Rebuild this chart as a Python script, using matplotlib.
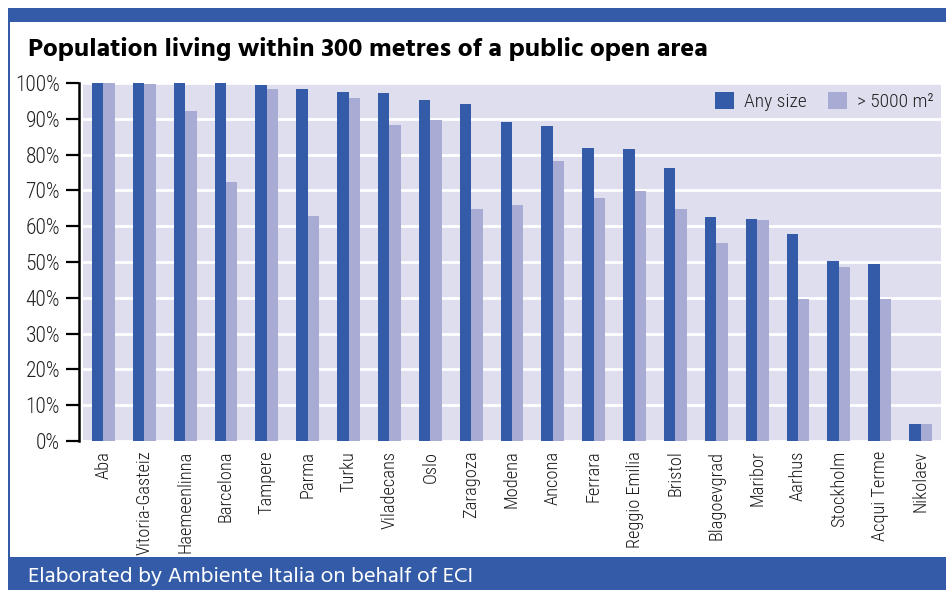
import matplotlib.pyplot as plt
from matplotlib.patches import Rectangle
import numpy as np

cities = ['Aba', 'Vitoria-Gasteiz', 'Haemeenlinna', 'Barcelona', 'Tampere', 'Parma',
          'Turku', 'Viladecans', 'Oslo', 'Zaragoza', 'Modena', 'Ancona', 'Ferrara',
          'Reggio Emilia', 'Bristol', 'Blagoevgrad', 'Maribor', 'Aarhus', 'Stockholm',
          'Acqui Terme', 'Nikolaev']
any_size = [100, 100, 100, 100, 99.4, 98.3, 97.5, 97.2, 95.3, 94.1, 89.1, 88.0, 81.8,
            81.6, 76.3, 62.6, 62.0, 57.8, 50.3, 49.4, 4.7]
over_5000 = [100, 99.7, 92.2, 72.3, 98.3, 62.8, 95.8, 88.3, 89.7, 64.8, 65.9, 78.2, 67.9,
             69.8, 64.8, 55.3, 61.7, 39.7, 48.6, 39.7, 4.7]
yticks = [0, 10, 20, 30, 40, 50, 60, 70, 80, 90, 100]
ytick_labels = ['%d%%' % v for v in yticks]

DARK = '#345BA7'
LIGHT = '#A8ABD4'
BG = '#DEDEEE'
COND = ['Roboto Condensed', 'DejaVu Sans']
HEAD = ['Hind', 'DejaVu Sans']

W, H = 946, 590
fig = plt.figure(figsize=(W / 100, H / 100), dpi=100)
fig.patch.set_facecolor('white')


def px(x0, y0, x1, y1):
    # pixel box from the top-left corner -> figure fraction rect
    return (x0 / W, 1 - y1 / H, (x1 - x0) / W, (y1 - y0) / H)


for box in [px(8, 8, 946, 22), px(8, 22, 10, 557), px(8, 557, 946, 590)]:
    fig.patches.append(Rectangle(box[:2], box[2], box[3], transform=fig.transFigure,
                                 facecolor=DARK, edgecolor='none'))

ax = fig.add_axes(px(83, 83, 941, 441))
ax.set_facecolor(BG)

# spine position first: moving it resets the tick objects
for s in ['top', 'right', 'bottom']:
    ax.spines[s].set_visible(False)
ax.spines['left'].set_position(('outward', 3))
ax.spines['left'].set_linewidth(1.8)

x = np.arange(len(cities))
w = 0.28
ax.bar(x - w / 2, any_size, w, color=DARK, label='Any size', zorder=3)
ax.bar(x + w / 2, over_5000, w, color=LIGHT, label='> 5000 m²', zorder=3)

ax.set_xlim(-0.5, len(cities) - 0.5)
ax.set_ylim(0, 100)
ax.tick_params(axis='x', length=0, pad=7)
ax.tick_params(axis='y', length=9.5, width=1.6, pad=4)
ax.set_yticks(yticks)
ax.set_yticklabels(ytick_labels, fontsize=15.5, family=COND, fontweight='light',
                   color='#222222')
ax.set_xticks(x)
ax.set_xticklabels(cities, rotation=90, fontsize=13.2, family=COND, fontweight='light',
                   color='#1a1a1a')
ax.yaxis.grid(True, color='white', lw=2, zorder=1)
ax.set_axisbelow(True)

leg = ax.legend(loc='upper right', ncol=2, frameon=False,
                prop={'family': COND, 'weight': 'light', 'size': 14},
                handlelength=1.0, handleheight=1.0, columnspacing=1.1, handletextpad=0.5,
                bbox_to_anchor=(1.012, 1.025))
for t in leg.get_texts():
    t.set_color('#222222')

fig.text(28 / W, 1 - 49 / H, 'Population living within 300 metres of a public open area',
         fontsize=19, fontweight='bold', family=HEAD, va='center', ha='left',
         color='black')
fig.text(28 / W, 1 - 576 / H, 'Elaborated by Ambiente Italia on behalf of ECI',
         fontsize=16.2, family=HEAD, va='center', ha='left', color='white')

fig.savefig('out.png', dpi=100)
